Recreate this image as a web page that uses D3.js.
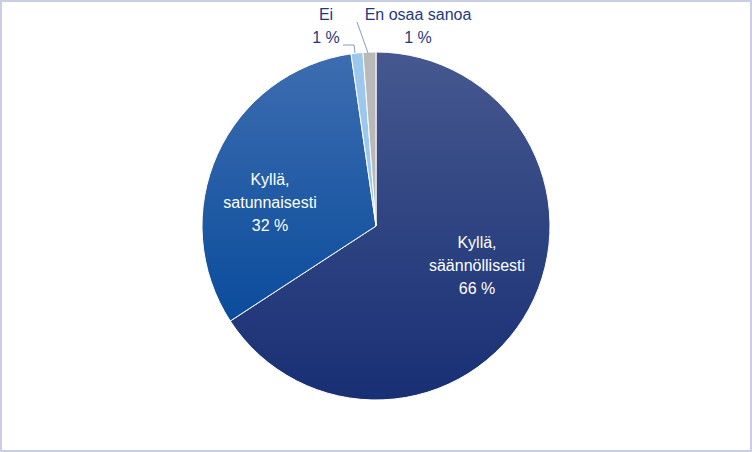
<!DOCTYPE html><html><head><meta charset="utf-8">
<script src="https://cdn.jsdelivr.net/npm/d3@7"></script>
<style>body{margin:0;background:#fff}svg{display:block}text{font-family:"Liberation Sans",Arial,sans-serif}</style></head><body>
<svg id="c" width="752" height="452"></svg>
<script>
const categories=["Kyllä, säännöllisesti","Kyllä, satunnaisesti","Ei","En osaa sanoa"];
const values=[66,32,1.1,1.2];
const labels=["66 %","32 %","1 %","1 %"];
const svg=d3.select("#c");
svg.append("rect").attr("x",1).attr("y",1).attr("width",750).attr("height",450).attr("fill","#fff").attr("stroke","#c9cde6").attr("stroke-width",2);
const defs=svg.append("defs");
const g1=defs.append("linearGradient").attr("id","g1").attr("x1",0).attr("y1",0).attr("x2",0).attr("y2",1);
g1.append("stop").attr("offset","0").attr("stop-color","#46588f");
g1.append("stop").attr("offset","1").attr("stop-color","#182f74");
const g2=defs.append("linearGradient").attr("id","g2").attr("x1",0).attr("y1",0).attr("x2",0).attr("y2",1);
g2.append("stop").attr("offset","0").attr("stop-color","#3d6db0");
g2.append("stop").attr("offset","1").attr("stop-color","#0a4c9c");
const fills=["url(#g1)","url(#g2)","#9cc8ee","#b9b9b9"];
const cx=376,cy=226,r=174;
const pie=d3.pie().sort(null).value(d=>d);
const arcs=pie(values);
const arc=d3.arc().innerRadius(0).outerRadius(r);
const g=svg.append("g").attr("transform",`translate(${cx},${cy})`);
g.selectAll("path").data(arcs).join("path").attr("d",arc).attr("fill",(d,i)=>fills[i]).attr("stroke","#fff").attr("stroke-width",1);
const t=svg.append("g").attr("fill","#fff").attr("font-size",16).attr("text-anchor","middle");
function lab(x,y,lines,col){const e=t.append("text").attr("fill",col||"#fff");lines.forEach((l,k)=>e.append("tspan").attr("x",x).attr("y",y+k*23).text(l));}
lab(477,248,["Kyllä,","säännöllisesti",labels[0]]);
lab(270,185,["Kyllä,","satunnaisesti",labels[1]]);
lab(326,20,["Ei",labels[2]],"#1f3a7a");
lab(418,20,["En osaa sanoa",labels[3]],"#1f3a7a");
const ln=svg.append("g").attr("stroke","#8a9bc0").attr("fill","none").attr("stroke-width",1);
ln.append("path").attr("d","M343,45 L354,45 L355,53");
ln.append("path").attr("d","M357,22 L368,53");
</script></body></html>
